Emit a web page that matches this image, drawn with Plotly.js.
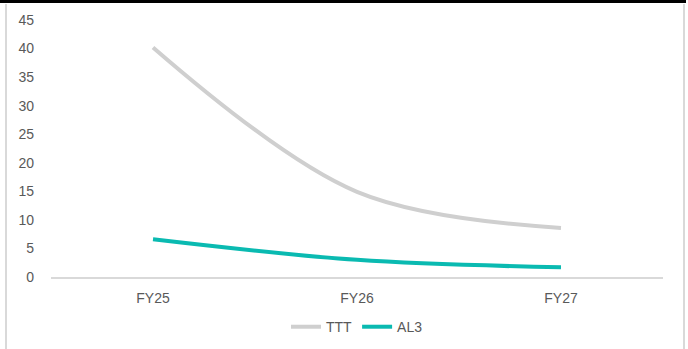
<!DOCTYPE html>
<html>
<head>
<meta charset="utf-8">
<script src="https://cdn.plot.ly/plotly-3.0.1.min.js"></script>
<style>
  html, body { margin: 0; padding: 0; background: #ffffff; }
  #wrap { position: relative; width: 688px; height: 349px; overflow: hidden; }
  #chart { position: absolute; left: 0; top: 0; width: 688px; height: 349px; }
  .deco { position: absolute; pointer-events: none; }
</style>
</head>
<body>
<div id="wrap">
  <div id="chart"></div>
  <div class="deco" style="left:0;top:0;width:686px;height:3px;background:#000;"></div>
  <div class="deco" style="left:5px;top:4px;width:2px;height:345px;background:#d9d9d9;"></div>
  <div class="deco" style="left:683px;top:4px;width:2px;height:345px;background:#d9d9d9;"></div>
</div>
<script>
const categories = ["FY25", "FY26", "FY27"];
const tttValues = [40.2, 14.9, 8.6];
const al3Values = [6.6, 3.0, 1.7];
const yTicks = [0, 5, 10, 15, 20, 25, 30, 35, 40, 45];
const seriesNames = ["TTT", "AL3"];

const fontFamily = "Liberation Sans, Arial, sans-serif";
const textColor = "#595959";
const fontSize = 14;

const traces = [
  {
    x: categories, y: tttValues, name: seriesNames[0],
    type: "scatter", mode: "lines",
    line: { color: "#cfcfcf", width: 4, shape: "spline", smoothing: 1 }
  },
  {
    x: categories, y: al3Values, name: seriesNames[1],
    type: "scatter", mode: "lines",
    line: { color: "#0abab1", width: 4, shape: "spline", smoothing: 1 }
  }
];

const layout = {
  width: 688, height: 349,
  margin: { l: 51, r: 25, t: 20, b: 72, autoexpand: false },
  paper_bgcolor: "rgba(0,0,0,0)",
  plot_bgcolor: "#ffffff",
  font: { family: fontFamily, size: fontSize, color: textColor },
  showlegend: true,
  legend: {
    orientation: "h", x: 0.5, xanchor: "center",
    y: -0.195, yanchor: "middle",
    font: { family: fontFamily, size: fontSize, color: textColor },
    itemwidth: 30, tracegroupgap: 0
  },
  xaxis: {
    type: "category", range: [-0.5, 2.5],
    showgrid: false, zeroline: false,
    showline: true, linecolor: "#d9d9d9", linewidth: 1.5,
    ticks: "", ticklabelstandoff: 8,
    tickfont: { family: fontFamily, size: fontSize, color: textColor },
    fixedrange: true
  },
  yaxis: {
    range: [0, 45], tickvals: yTicks, ticktext: yTicks.map(String),
    showgrid: false, zeroline: false, showline: false,
    ticks: "", ticklabelstandoff: 16,
    tickfont: { family: fontFamily, size: fontSize, color: textColor },
    fixedrange: true
  }
};

Plotly.newPlot("chart", traces, layout, { displayModeBar: false, staticPlot: true });
</script>
</body>
</html>
